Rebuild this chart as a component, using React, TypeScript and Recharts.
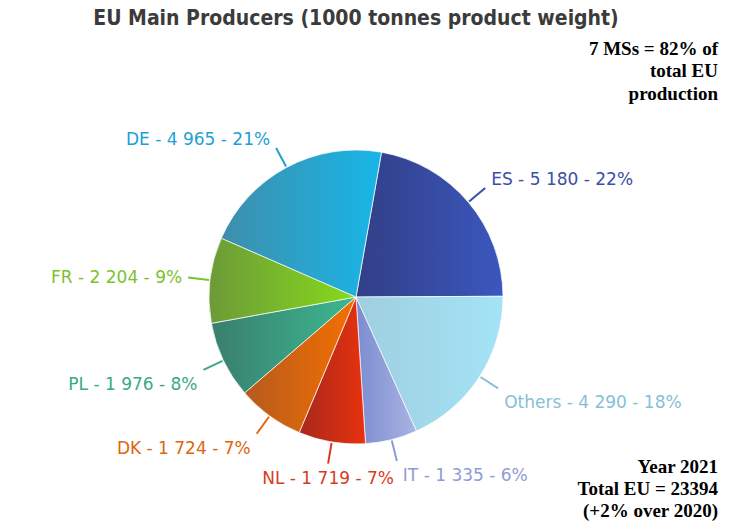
import React from 'react';
import { PieChart, Pie, Cell } from 'recharts';

const countries = ['ES', 'Others', 'IT', 'NL', 'DK', 'PL', 'FR', 'DE'];
const values = [5180, 4290, 1335, 1719, 1724, 1976, 2204, 4965];
const percents = [22, 18, 6, 7, 7, 8, 9, 21];
const gradFrom = ['#313f86', '#9fcfdf', '#7b8cd0', '#a8281c', '#b65a1e', '#3a7e6e', '#6c9a38', '#3f8eaa'];
const gradTo = ['#3b57be', '#a4e3f7', '#aab4e2', '#e8320f', '#f47000', '#3cb890', '#86da1c', '#18b6e8'];
const labelColors = ['#3a4fa6', '#86bfd6', '#8f9bd2', '#d93a1e', '#e0650c', '#3aa888', '#7cc22a', '#22a0d2'];
const noteTop = ['7 MSs = 82% of', 'total EU', 'production'];
const noteBottom = ['Year 2021', 'Total EU = 23394', '(+2% over 2020)'];

const fmt = (v: number) => {
  const s = String(v);
  return s.length > 3 ? s.slice(0, s.length - 3) + ' ' + s.slice(-3) : s;
};

const data = countries.map((c, i) => ({ name: c, value: values[i], pct: percents[i] }));

const RAD = Math.PI / 180;

const renderLabel = (props: any) => {
  const { cx, cy, midAngle, outerRadius, index } = props;
  const cos = Math.cos(-midAngle * RAD);
  const sin = Math.sin(-midAngle * RAD);
  const r1 = outerRadius + 1;
  const r2 = outerRadius + 22;
  const x1 = cx + r1 * cos;
  const y1 = cy + r1 * sin;
  const x2 = cx + r2 * cos;
  const y2 = cy + r2 * sin;
  let anchor: 'start' | 'end' | 'middle' = cos >= 0 ? 'start' : 'end';
  let tx = x2 + (cos >= 0 ? 6 : -6);
  if (Math.abs(cos) < 0.2) {
    anchor = 'middle';
    tx = x2;
  }
  let off = 0;
  if (sin > 0.3) off = 14;
  else if (sin < -0.3) off = -9;
  const ty = y2 + off;
  const color = labelColors[index];
  const d = data[index];
  return (
    <g key={`lbl-${index}`}>
      <line x1={x1} y1={y1} x2={x2} y2={y2} stroke={color} strokeWidth={2} />
      <text
        x={tx}
        y={ty}
        fill={color}
        textAnchor={anchor}
        dominantBaseline="central"
        fontFamily="DejaVu Sans, Verdana, sans-serif"
        fontSize={17}
      >
        {`${d.name} - ${fmt(d.value)} - ${d.pct}%`}
      </text>
    </g>
  );
};

const serif = 'Liberation Serif, Times New Roman, serif';

export default function App() {
  return (
    <div style={{ position: 'absolute', left: 0, top: 0, width: 731, height: 528, background: '#fff' }}>
      <PieChart width={731} height={528} margin={{ top: 0, right: 0, bottom: 0, left: 0 }}>
        <defs>
          {countries.map((c, i) => (
            <linearGradient key={c} id={`g${i}`} x1="0" y1="0" x2="1" y2="0">
              <stop offset="0%" stopColor={gradFrom[i]} />
              <stop offset="100%" stopColor={gradTo[i]} />
            </linearGradient>
          ))}
        </defs>
        <text
          x={356}
          y={18}
          textAnchor="middle"
          dominantBaseline="central"
          fontFamily="DejaVu Sans Condensed, DejaVu Sans, sans-serif"
          fontWeight="bold"
          fontSize={21}
          fill="#3b3b3b"
        >
          EU Main Producers (1000 tonnes product weight)
        </text>
        {noteTop.map((t, i) => (
          <text
            key={t}
            x={718}
            y={48 + i * 22.5}
            textAnchor="end"
            dominantBaseline="central"
            fontFamily={serif}
            fontWeight="bold"
            fontSize={19}
            fill="#000"
          >
            {t}
          </text>
        ))}
        {noteBottom.map((t, i) => (
          <text
            key={t}
            x={718}
            y={466 + i * 22}
            textAnchor="end"
            dominantBaseline="central"
            fontFamily={serif}
            fontWeight="bold"
            fontSize={19}
            fill="#000"
          >
            {t}
          </text>
        ))}
        <Pie
          data={data}
          dataKey="value"
          nameKey="name"
          cx={356}
          cy={297}
          outerRadius={147}
          startAngle={80}
          endAngle={-280}
          stroke="rgba(255,255,255,0.7)"
          strokeWidth={1}
          label={renderLabel}
          labelLine={false}
          isAnimationActive={false}
        >
          {data.map((d, i) => (
            <Cell key={d.name} fill={`url(#g${i})`} />
          ))}
        </Pie>
      </PieChart>
    </div>
  );
}
